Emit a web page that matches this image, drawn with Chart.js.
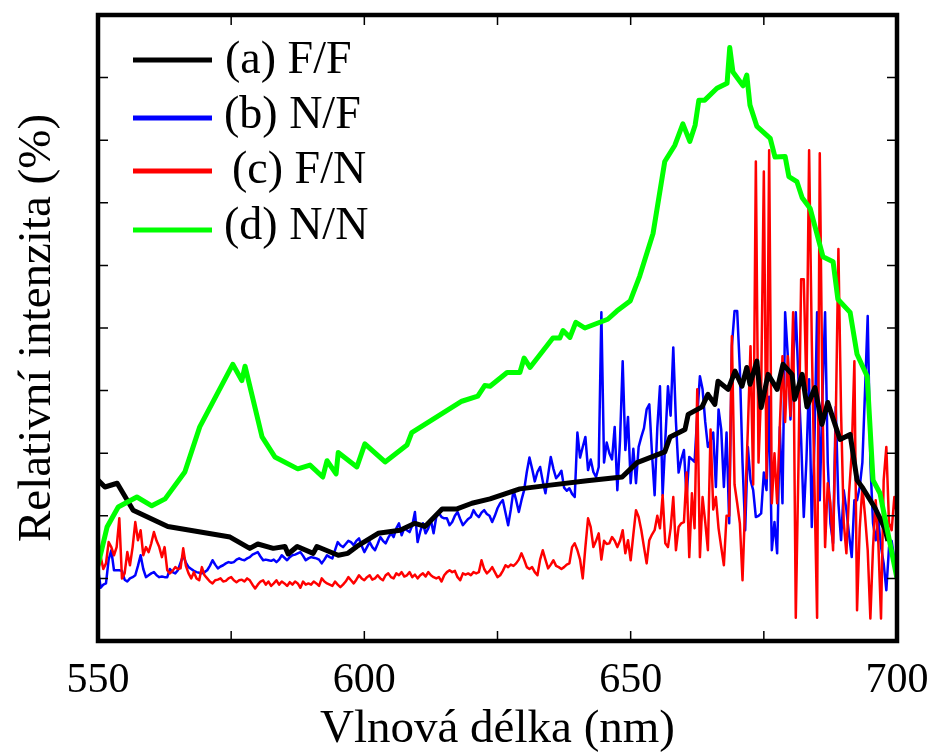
<!DOCTYPE html>
<html>
<head>
<meta charset="utf-8">
<script src="https://cdn.jsdelivr.net/npm/chart.js@4.4.1/dist/chart.umd.min.js"></script>
<style>
    html, body { margin: 0; padding: 0; background: #fff; }
    #wrap { width: 932px; height: 755px; position: relative; }
    .font-probe { position: absolute; left: 300px; top: 300px; font-family: 'Liberation Serif'; font-size: 30px; color: #fff; }
    #warmup { position: absolute; left: 0; top: 0; width: 10px; height: 10px; }
</style>
</head>
<body>
<div class="font-probe">Relativní intenzita Vlnová délka 550</div>
<canvas id="warmup" width="10" height="10"></canvas>
<div id="wrap"><canvas id="spectrumChart"></canvas></div>
<script>
// Spectra (relative intensity, arbitrary units)
const seriesLabels = ['(a) F/F', '(b) N/F', '(c) F/N', '(d) N/N'];
const seriesColors = ['#000000', '#0000ff', '#ff0000', '#00ff00'];

const xTickValues = [550, 575, 600, 625, 650, 675, 700];
const xLabelValues = [550, 600, 650, 700];

// (a) F/F - smooth thick curve
const ffNm = [550, 551.3, 553.6, 556.6, 563.1, 574.8, 578.5, 580.0, 582.9, 585.1, 585.7, 587.4, 590.4, 591.1, 595.1,
    596.9, 598.6, 602.6, 606.7, 609.5, 611.4, 614.6, 617.4, 620.2, 623.6, 629.2, 634.9, 641.8, 648.4, 651.2,
    656.4, 657.4, 660.2, 660.8, 663.4, 664.5, 665.8, 666.4, 668.3, 669.6, 670.9, 671.8, 672.4, 673.7, 674.5,
    675.8, 677.5, 678.6, 680.3, 680.8, 682.2, 683.1, 684.6, 685.9, 687.0, 689.3, 691.2, 692.5, 693.6, 695.9, 697.7, 698.3];
const ffVal = [1.57, 1.46, 1.52, 1.09, 0.83, 0.66, 0.48, 0.55, 0.48, 0.51, 0.39, 0.51, 0.40, 0.51, 0.37,
    0.40, 0.51, 0.72, 0.77, 0.88, 0.83, 1.11, 1.11, 1.20, 1.27, 1.43, 1.49, 1.56, 1.62, 1.85,
    2.02, 2.26, 2.38, 2.62, 2.74, 2.94, 2.78, 3.15, 3.02, 3.31, 3.07, 3.37, 3.10, 3.47, 2.73,
    3.26, 3.02, 3.42, 3.26, 2.86, 3.26, 2.74, 3.05, 2.46, 2.81, 2.22, 2.30, 1.57, 1.44, 1.12, 0.80, 0.60];

// (d) N/N - smooth thick curve
const nnNm = [550, 551.7, 553.8, 557.3, 560.1, 562.6, 566.3, 569.1, 575.3, 577.0, 577.6, 580.8, 583.2, 587.5, 589.8,
    592.2, 593.0, 594.7, 595.1, 598.6, 600.1, 603.9, 608.0, 608.9, 618.3, 621.3, 622.6, 623.6, 626.8, 629.2,
    630.0, 631.1, 635.4, 636.7, 637.3, 638.6, 639.7, 641.4, 645.7, 647.4, 649.9, 651.7, 654.2, 656.4, 658.3,
    659.8, 661.1, 662.1, 662.8, 663.9, 666.2, 668.1, 668.6, 669.2, 671.1, 671.8, 672.4, 673.7, 676.2, 677.1,
    679.0, 679.7, 681.2, 682.2, 683.7, 686.1, 688.0, 688.9, 691.2, 692.5, 694.4, 695.5, 696.8, 700];
const nnVal = [0.21, 0.82, 1.14, 1.30, 1.16, 1.27, 1.70, 2.42, 3.42, 3.16, 3.39, 2.26, 1.94, 1.75, 1.81,
    1.62, 1.88, 1.67, 2.01, 1.78, 2.15, 1.86, 2.13, 2.33, 2.83, 2.91, 3.08, 3.07, 3.29, 3.29,
    3.52, 3.37, 3.84, 3.84, 3.96, 3.85, 4.09, 4.00, 4.14, 4.27, 4.43, 4.83, 5.51, 6.66, 6.92,
    7.26, 6.98, 7.24, 7.64, 7.64, 7.83, 7.91, 8.48, 8.09, 7.87, 8.04, 7.56, 7.22, 7.03, 6.73,
    6.74, 6.42, 6.34, 6.08, 5.91, 5.14, 5.06, 4.46, 4.25, 3.58, 3.23, 1.57, 1.36, 0.0];

// (b) and (c) - noisy spectra on a 0.5 nm grid starting at 550 nm
const gridStart = 550;
const gridStep = 0.5;

const nfVal = [
    0.16, -0.15, -0.1, -0.08, 0.3, 0.45, 0.13, 0.13, 0.13, 0.12, -0.02, -0.05, 0.0, 0.02, 0.05, 0.2, 0.37, 0.15, 0.02, 0.05,
    0.08, 0.1, 0.05, 0.02, 0.03, 0.02, 0.02, 0.15, 0.1, 0.08, 0.13, 0.25, 0.37, 0.25, 0.18, 0.15, 0.12, 0.1, 0.09, 0.08,
    0.1, 0.13, 0.2, 0.29, 0.22, 0.16, 0.19, 0.21, 0.24, 0.26, 0.25, 0.26, 0.3, 0.32, 0.3, 0.29, 0.32, 0.34, 0.38, 0.4,
    0.42, 0.35, 0.29, 0.3, 0.29, 0.28, 0.3, 0.26, 0.3, 0.37, 0.33, 0.29, 0.34, 0.37, 0.38, 0.4, 0.42, 0.36, 0.29, 0.32,
    0.34, 0.33, 0.32, 0.3, 0.24, 0.3, 0.37, 0.34, 0.32, 0.45, 0.58, 0.53, 0.5, 0.55, 0.6, 0.58, 0.53, 0.6, 0.64, 0.52,
    0.42, 0.5, 0.58, 0.5, 0.45, 0.55, 0.66, 0.6, 0.56, 0.65, 0.72, 0.66, 0.8, 0.88, 0.69, 0.8, 0.77, 0.74, 0.85, 1.06,
    0.58, 0.75, 0.88, 0.72, 0.8, 0.93, 0.72, 0.98, 1.04, 0.98, 0.96, 0.96, 0.85, 0.9, 1.0, 1.06, 0.95, 0.85, 0.9, 0.95,
    0.98, 1.09, 1.02, 0.98, 1.05, 1.09, 1.03, 1.0, 0.9, 1.0, 1.12, 1.2, 1.25, 1.05, 0.85, 1.1, 1.41, 1.25, 1.06, 1.25,
    1.41, 1.7, 1.93, 1.75, 1.55, 1.7, 1.78, 1.55, 1.36, 1.65, 1.94, 1.75, 1.6, 1.65, 1.72, 1.45, 1.4, 1.44, 1.35, 1.3,
    2.33, 1.93, 2.1, 2.26, 1.73, 1.9, 1.7, 1.62, 1.78, 4.25, 1.85, 2.17, 2.0, 1.9, 2.42, 1.41, 2.2, 3.47, 2.05, 2.58,
    1.52, 2.07, 1.52, 2.1, 2.26, 2.4, 2.7, 2.78, 2.0, 1.33, 2.4, 3.07, 1.33, 2.2, 3.07, 2.6, 3.69, 2.5, 1.69, 1.9,
    2.05, 1.3, 1.94, 1.9, 1.86, 2.6, 3.23, 3.02, 2.5, 2.1, 2.2, 2.33, 1.46, 2.7, 2.38, 1.46, 2.33, 0.88, 3.71, 4.27,
    4.27, 3.34, 1.85, 0.77, 2.1, 1.57, 1.41, 0.98, 1.0, 1.04, 1.69, 1.41, 2.9, 0.45, 0.9, 0.4, 2.42, 1.2, 4.25, 3.55,
    2.54, 3.45, 4.25, 3.18, 2.22, 0.98, 1.9, 3.18, 0.82, 2.17, 4.25, 1.25, 2.9, 4.25, 1.85, 0.88, 0.56, 2.74, 1.2, 0.61,
    1.41, 1.09, 0.7, 0.34, 1.25, 1.25, 1.46, 1.85, 3.0, 4.19, 1.85, 0.88, 0.61, 0.93, 0.5, 0.24, -0.19, 0.5, 0.6, 0.3, 0.1
];

const fnVal = [
    0.1, 0.35, 0.15, 0.24, 0.58, 0.5, 0.37, 0.5, 0.96, 0.0, 0.08, 0.42, 0.21, 0.5, 0.9, 0.61, 0.77, 0.37, 0.5, 0.42,
    0.56, 0.74, 0.6, 0.5, 0.34, 0.5, 0.13, 0.08, 0.12, 0.18, 0.15, 0.16, 0.48, 0.2, 0.08, 0.0, 0.1, 0.0, -0.03, 0.18,
    0.05, 0.0, -0.05, -0.08, -0.03, -0.02, 0.0, -0.05, -0.04, 0.0, 0.02, -0.03, -0.06, -0.03, -0.02, -0.05, 0.0, -0.03, -0.1, -0.16,
    -0.1, -0.05, -0.03, -0.1, -0.05, -0.12, -0.08, -0.03, -0.1, -0.05, -0.08, -0.12, -0.06, -0.1, -0.05, -0.08, -0.15, -0.05, -0.1, -0.08,
    -0.1, -0.05, -0.08, -0.12, 0.0, -0.05, -0.08, -0.1, -0.12, -0.05, -0.1, -0.14, -0.1, -0.05, 0.02, -0.03, -0.08, -0.02, 0.05, 0.0,
    -0.03, 0.02, 0.05, -0.02, 0.0, 0.05, 0.0, -0.03, 0.05, 0.08, 0.02, 0.0, 0.08, 0.05, 0.1, 0.03, 0.05, 0.1, 0.02, 0.06,
    0.0, 0.05, 0.08, 0.03, 0.1, 0.05, 0.02, 0.0, 0.02, -0.05, 0.05, 0.1, 0.13, 0.1, 0.12, 0.02, -0.03, 0.08, 0.06, 0.08,
    0.05, 0.1, 0.08, 0.1, 0.29, 0.15, 0.08, 0.12, 0.18, 0.1, 0.02, 0.05, 0.12, 0.21, 0.18, 0.22, 0.2, 0.24, 0.3, 0.4,
    0.3, 0.18, 0.15, 0.18, 0.1, 0.05, 0.3, 0.45, 0.3, 0.16, 0.22, 0.29, 0.2, 0.18, 0.15, 0.18, 0.22, 0.24, 0.5, 0.56,
    0.45, 0.3, 0.0, 0.5, 0.96, 0.82, 0.5, 0.6, 0.72, 0.3, 0.6, 0.55, 0.56, 0.66, 0.6, 0.5, 0.6, 0.77, 0.4, 0.61,
    0.29, 0.7, 1.09, 0.98, 0.77, 0.5, 0.24, 0.61, 0.7, 0.77, 1.0, 0.8, 1.33, 0.56, 0.5, 0.8, 1.3, 0.45, 0.82, 0.88,
    0.9, 1.69, 0.34, 1.36, 0.8, 3.02, 0.34, 1.3, 0.9, 0.45, 2.38, 1.1, 1.3, 0.8, 0.5, 0.21, 1.0, 1.0, 3.87, 1.5,
    1.2, 0.88, -0.03, 1.2, 2.38, 3.71, 1.5, 6.66, 1.85, 3.0, 6.5, 1.6, 6.84, 1.2, 2.0, 1.2, 2.42, 3.55, 2.5, 3.55,
    2.6, 4.25, -0.63, 1.8, 4.78, 4.78, 3.0, 6.84, 3.8, 1.5, -0.63, 6.79, 2.9, 0.5, 1.52, 1.2, 0.45, 2.5, 5.26, 2.65,
    0.9, 0.4, 1.36, 2.0, 3.47, -0.51, 0.8, 1.46, 1.0, 0.45, -0.64, 0.5, 1.25, 0.56, -0.64, 1.57, 2.1, 0.88, 0.77, 1.3, 1.0
];

const serifFont = "'Liberation Serif'";

function pairUp(xs, ys) {
    return ys.map((y, i) => ({ x: xs[i], y: y }));
}

function onGrid(ys) {
    return ys.map((y, i) => ({ x: gridStart + i * gridStep, y: y }));
}

// frame, inward ticks on all four sides, and the legend inside the plot
const framePlugin = {
    id: 'frame',
    afterDraw(chart) {
        const ctx = chart.ctx;
        const area = chart.chartArea;
        const xScale = chart.scales.x;
        const yScale = chart.scales.y;
        const tickLen = 10;

        ctx.save();
        ctx.strokeStyle = '#000';
        ctx.lineWidth = 1.5;
        ctx.beginPath();
        xTickValues.forEach(v => {
            const px = xScale.getPixelForValue(v);
            ctx.moveTo(px, area.bottom);
            ctx.lineTo(px, area.bottom - tickLen);
            ctx.moveTo(px, area.top);
            ctx.lineTo(px, area.top + tickLen);
        });
        yScale.ticks.forEach(t => {
            const py = yScale.getPixelForValue(t.value);
            ctx.moveTo(area.left, py);
            ctx.lineTo(area.left + tickLen, py);
            ctx.moveTo(area.right, py);
            ctx.lineTo(area.right - tickLen, py);
        });
        ctx.stroke();

        ctx.lineWidth = 4.5;
        ctx.strokeRect(area.left, area.top, area.right - area.left, area.bottom - area.top);

        // legend
        const lineRows = [60, 118, 171, 230];
        const textRows = [73, 128, 183, 239];
        const textLeft = [225, 224, 232, 224];
        ctx.font = '46px ' + serifFont;
        ctx.textBaseline = 'alphabetic';
        ctx.textAlign = 'left';
        seriesLabels.forEach((label, i) => {
            ctx.strokeStyle = seriesColors[i];
            ctx.lineWidth = 5;
            ctx.beginPath();
            ctx.moveTo(133, lineRows[i]);
            ctx.lineTo(212, lineRows[i]);
            ctx.stroke();
            ctx.fillStyle = '#000';
            ctx.fillText(label, textLeft[i], textRows[i]);
        });
        ctx.restore();
    }
};

function warmUpFont() {
    const w = document.getElementById('warmup').getContext('2d');
    w.font = "30px 'Liberation Serif'";
    w.fillStyle = '#fff';
    w.fillText('Vlnová 550', 0, 8);
}

function initializeChart() {
    const ctx = document.getElementById('spectrumChart');
    return new Chart(ctx, {
        type: 'line',
        data: {
            datasets: [
                { label: seriesLabels[3], data: pairUp(nnNm, nnVal), borderColor: seriesColors[3], borderWidth: 5, order: 1 },
                { label: seriesLabels[0], data: pairUp(ffNm, ffVal), borderColor: seriesColors[0], borderWidth: 5, order: 2 },
                { label: seriesLabels[2], data: onGrid(fnVal), borderColor: seriesColors[2], borderWidth: 2.5, order: 3 },
                { label: seriesLabels[1], data: onGrid(nfVal), borderColor: seriesColors[1], borderWidth: 2.5, order: 4 }
            ]
        },
        options: {
            responsive: true,
            maintainAspectRatio: false,
            animation: false,
            layout: { padding: { top: 15, right: 35, left: 0, bottom: 0 } },
            elements: {
                point: { radius: 0, hoverRadius: 0 },
                line: { tension: 0, fill: false, borderJoinStyle: 'round', borderCapStyle: 'butt' }
            },
            plugins: {
                legend: { display: false },
                tooltip: { enabled: false }
            },
            scales: {
                x: {
                    type: 'linear',
                    min: 550,
                    max: 700,
                    afterFit: s => { s.height = 114; s.paddingLeft = 0; s.paddingRight = 0; },
                    grid: { display: false, drawTicks: false },
                    border: { display: false },
                    ticks: {
                        stepSize: 50,
                        autoSkip: false,
                        padding: 15,
                        color: '#000',
                        font: { family: serifFont, size: 42 },
                        callback: v => (xLabelValues.includes(v) ? String(v) : '')
                    },
                    title: {
                        display: true,
                        text: 'Vlnová délka (nm)',
                        color: '#000',
                        font: { family: serifFont, size: 47 },
                        padding: { top: 0, bottom: -3 }
                    }
                },
                y: {
                    type: 'linear',
                    min: -1,
                    max: 9,
                    afterFit: s => { s.width = 98; },
                    grid: { display: false, drawTicks: false },
                    border: { display: false },
                    ticks: { stepSize: 1, display: false },
                    title: {
                        display: true,
                        text: 'Relativní intenzita (%)',
                        color: '#000',
                        font: { family: serifFont, size: 47 },
                        padding: { top: 9, bottom: 0 }
                    }
                }
            }
        },
        plugins: [framePlugin]
    });
}

warmUpFont();
const spectrumChart = initializeChart();

// redraw once the serif face is really available
function redraw() {
    spectrumChart.draw();
}
if (document.fonts) {
    document.fonts.load("46px 'Liberation Serif'").then(redraw, redraw);
    document.fonts.ready.then(redraw);
}
window.addEventListener('load', redraw);
setTimeout(redraw, 200);
setTimeout(redraw, 800);
</script>
</body>
</html>
